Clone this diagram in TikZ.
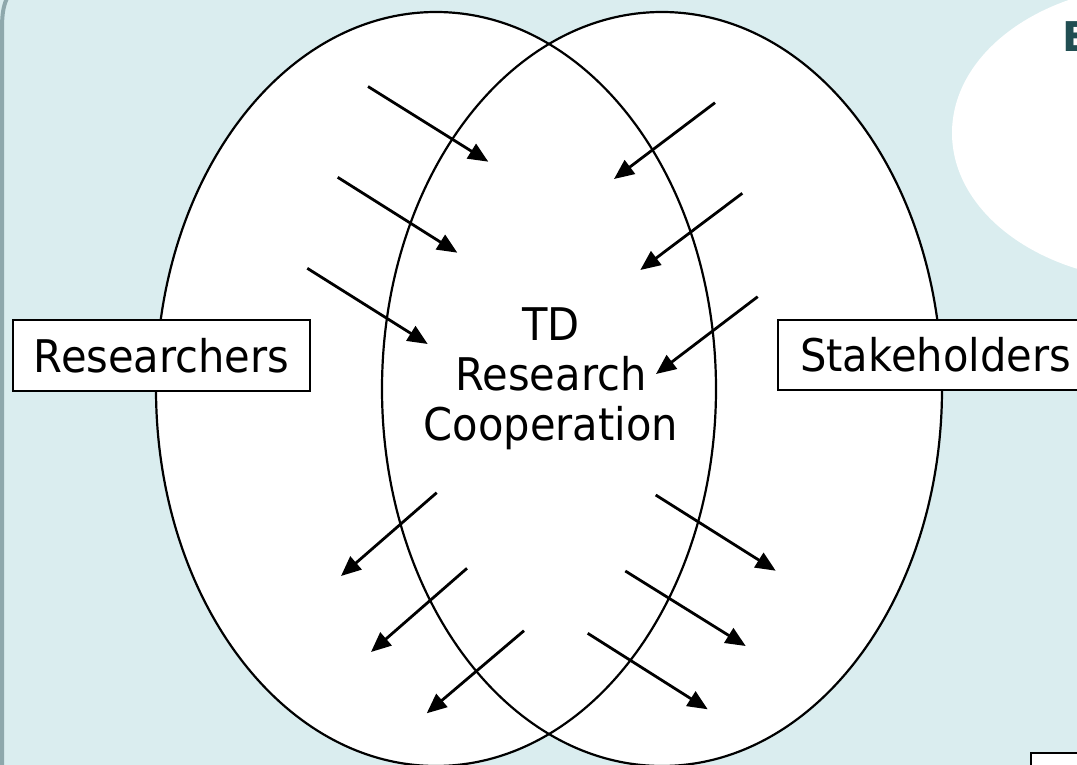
\documentclass[tikz,border=0pt]{standalone}
\usepackage{fontspec}
\setmainfont{DejaVu Sans}[FakeStretch=0.925]
\newfontfamily\efont{DejaVu Sans}
\usetikzlibrary{arrows.meta}
\definecolor{bgc}{RGB}{218,237,239}
\definecolor{borderc}{RGB}{142,168,172}
\definecolor{ecol}{RGB}{33,78,82}
\tikzset{
  ell/.style={draw=black, line width=2.2pt},
  arr/.style={draw=black, line width=2.8pt, -{Triangle[length=20pt,width=17pt]}},
  lbl/.style={draw=black, fill=white, line width=2.2pt, inner sep=0pt,
              font=\fontsize{45}{50}\selectfont},
}
\begin{document}
\begin{tikzpicture}[x=1pt,y=-1pt]
\useasboundingbox (0,0) rectangle (1077,765);
\clip (0,0) rectangle (1077,765);
\fill[bgc] (0,0) rectangle (1077,765);
% top-right shape
\fill[white] (1160,133) ellipse [x radius=208, y radius=148];
\node[anchor=base west, inner sep=0pt, text=ecol, font=\efont\bfseries\fontsize{41}{45}\selectfont] (E) at (1062,52) {E};
% left border of the slide frame
\draw[borderc, line width=4pt] (2,770) -- (2,28) .. controls (2,12) and (4,4) .. (8,-4);
% ellipses
\fill[white] (436,389) ellipse [x radius=280, y radius=377];
\fill[white] (662,389) ellipse [x radius=280, y radius=377];
\draw[ell] (436,389) ellipse [x radius=280, y radius=377];
\draw[ell] (662,389) ellipse [x radius=280, y radius=377];
% labels
\node[lbl, anchor=north west, minimum width=297pt, minimum height=71pt] (res) at (12,319) {Researchers};
\node[lbl, anchor=north west, inner xsep=22pt, minimum height=70pt] (stk) at (777,319) {Stakeholders};
\node[align=center, inner sep=0pt, font=\fontsize{45}{50}\selectfont] (td) at (551,379) {TD\\Research\\Cooperation};
% bottom-right box
\node[draw=black, fill=white, line width=2.4pt, anchor=north west, minimum width=120pt, minimum height=60pt] (corner) at (1029.5,752) {};
% arrow coordinates
\coordinate (a1s) at (368,86.5);  \coordinate (a1e) at (488.3,161.7);
\coordinate (a2s) at (337.7,177.3); \coordinate (a2e) at (457.3,252.7);
\coordinate (a3s) at (307.3,268.3); \coordinate (a3e) at (427.7,344);
\coordinate (a4s) at (715,102.7); \coordinate (a4e) at (614,179);
\coordinate (a5s) at (742.3,193.3); \coordinate (a5e) at (640.3,270);
\coordinate (a6s) at (757.7,296.7); \coordinate (a6e) at (656,374);
\coordinate (a7s) at (436.7,492.7); \coordinate (a7e) at (341,576);
\coordinate (a8s) at (467,568.3); \coordinate (a8e) at (371,652);
\coordinate (a9s) at (524,630.7); \coordinate (a9e) at (426.7,713.3);
\coordinate (a10s) at (655.7,495); \coordinate (a10e) at (775.7,570.7);
\coordinate (a11s) at (625.3,571); \coordinate (a11e) at (745.7,646);
\coordinate (a12s) at (587.7,633.3); \coordinate (a12e) at (707.7,709.3);
\foreach \i in {1,...,12} {\draw[arr] (a\i s) -- (a\i e);}
\end{tikzpicture}
\end{document}
